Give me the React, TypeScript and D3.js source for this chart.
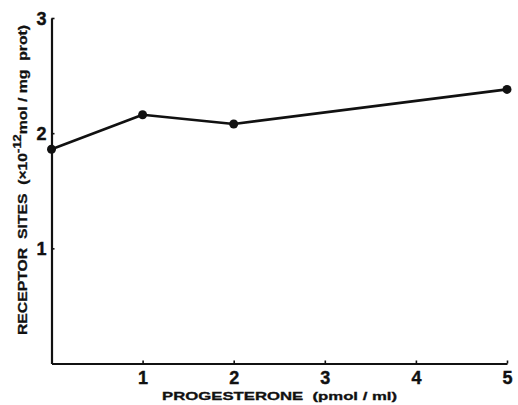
import React, { useEffect, useRef } from 'react';
import * as d3 from 'd3';

const doses = [0, 1, 2, 5];
const sites = [1.86, 2.16, 2.08, 2.38];
const xTicks = [1, 2, 3, 4, 5];
const yTicks = [1, 2, 3];

const W = 518;
const H = 405;

const App = () => {
  const svgRef = useRef<SVGSVGElement>(null);

  useEffect(() => {
    const svg = d3.select(svgRef.current);
    svg.selectAll('*').remove();

    const x = d3.scaleLinear().domain([0, 5]).range([51.5, 507]);
    const y = d3.scaleLinear().domain([0, 3]).range([363.5, 18]);
    const font = 'Liberation Sans, Arial, sans-serif';

    // axes
    const xAxis = svg
      .append('g')
      .attr('transform', `translate(0,${y(0)})`)
      .call(
        d3.axisBottom(x).tickValues(xTicks).tickFormat(d3.format('d')).tickSize(-3).tickSizeOuter(0).tickPadding(8)
      );
    const yAxis = svg
      .append('g')
      .attr('transform', `translate(${x(0)},0)`)
      .call(
        d3.axisLeft(y).tickValues(yTicks).tickFormat(d3.format('d')).tickSize(-3).tickSizeOuter(0).tickPadding(5)
      );

    [xAxis, yAxis].forEach((a) => {
      a.select('.domain').attr('stroke', '#111').attr('stroke-width', 2.2);
      a.selectAll('.tick line').attr('stroke', '#111').attr('stroke-width', 1.6);
      a.selectAll('.tick text')
        .attr('font-family', font)
        .attr('font-weight', 'bold')
        .attr('font-size', 18)
        .attr('fill', '#111')
        .attr('stroke', '#111')
        .attr('stroke-width', 0.4);
    });
    xAxis.selectAll('.tick text').attr('dy', '0.72em');
    yAxis.selectAll('.tick text').attr('dy', '0.36em');

    // series
    const pts = doses.map((d, i) => [d, sites[i]] as [number, number]);
    const line = d3
      .line<[number, number]>()
      .x((d) => x(d[0]))
      .y((d) => y(d[1]));

    svg
      .append('path')
      .datum(pts)
      .attr('d', line)
      .attr('fill', 'none')
      .attr('stroke', '#111')
      .attr('stroke-width', 2.6)
      .attr('stroke-linejoin', 'round');

    svg
      .append('g')
      .selectAll('circle')
      .data(pts)
      .join('circle')
      .attr('cx', (d) => x(d[0]))
      .attr('cy', (d) => y(d[1]))
      .attr('r', 4.5)
      .attr('fill', '#111');

    // x title
    svg
      .append('text')
      .attr('x', 162)
      .attr('y', 400)
      .attr('textLength', 235)
      .attr('lengthAdjust', 'spacingAndGlyphs')
      .attr('font-family', font)
      .attr('font-weight', 'bold')
      .attr('font-size', 11)
      .attr('fill', '#111')
      .attr('stroke', '#111')
      .attr('stroke-width', 0.3)
      .style('white-space', 'pre')
      .text('PROGESTERONE  (pmol / ml)');

    // y title
    const yt = svg
      .append('text')
      .attr('transform', 'translate(27,335) rotate(-90)')
      .attr('font-family', font)
      .attr('font-weight', 'bold')
      .attr('font-size', 13.5)
      .attr('fill', '#111')
      .attr('stroke', '#111')
      .attr('stroke-width', 0.3)
      .style('white-space', 'pre')
      .attr('textLength', 310)
      .attr('lengthAdjust', 'spacingAndGlyphs');
    yt.append('tspan').text('RECEPTOR  SITES  (×10');
    yt.append('tspan').attr('font-size', 11).attr('dy', -6).text('-12');
    yt.append('tspan').attr('dy', 6).text('mol / mg  prot)');
  }, []);

  return <svg ref={svgRef} width={W} height={H} style={{ position: 'absolute', left: 0, top: 0, background: '#fff' }} />;
};

export default App;
